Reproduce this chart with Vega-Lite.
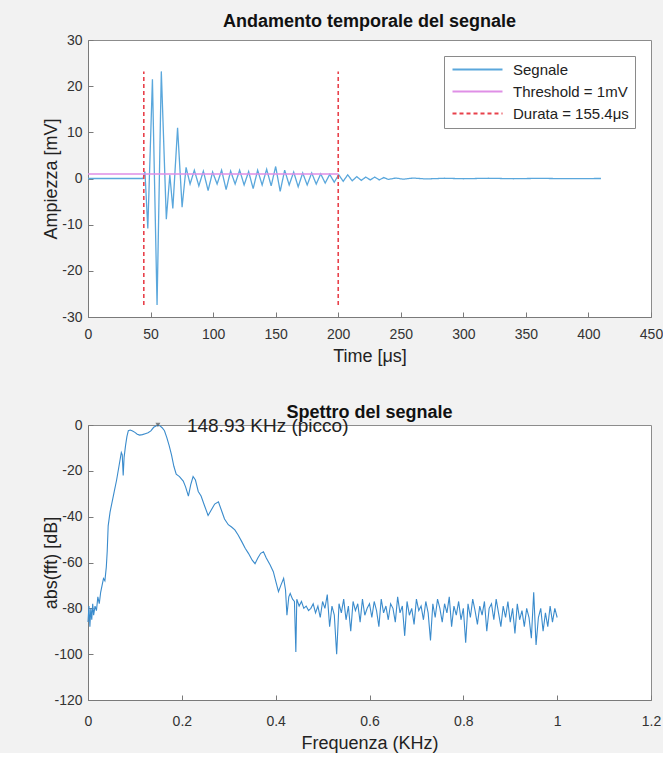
{
  "$schema": "https://vega.github.io/schema/vega-lite/v6.json",
  "background": "#f2f2f2",
  "padding": {"left": 41, "top": 12, "right": 0, "bottom": 0},
  "spacing": 37,
  "datasets": {
    "sig": [
      {"t": 0, "v": 0}, {"t": 44, "v": 0}, {"t": 45.5, "v": 1.5}, {"t": 47.8, "v": -10.8}, {"t": 51.5, "v": 21.5},
      {"t": 55.2, "v": -27.4}, {"t": 58.6, "v": 23.2}, {"t": 62.6, "v": -8.8}, {"t": 65.4, "v": 0.8}, {"t": 67.8, "v": -6.5},
      {"t": 71.6, "v": 11.0}, {"t": 75.2, "v": -6.2}, {"t": 78.4, "v": 2.4}, {"t": 81.6, "v": -1.2}, {"t": 85, "v": 1.8},
      {"t": 88.6, "v": -1.6}, {"t": 92.2, "v": 1.6}, {"t": 96, "v": -2.6}, {"t": 99.6, "v": 1.4}, {"t": 103.2, "v": -1.2},
      {"t": 106.8, "v": 1.8}, {"t": 110.4, "v": -2.4}, {"t": 114, "v": 1.6}, {"t": 117.6, "v": -1.2}, {"t": 121.2, "v": 1.8},
      {"t": 124.8, "v": -1.4}, {"t": 128.4, "v": 1.5}, {"t": 132, "v": -2.2}, {"t": 135.6, "v": 1.8}, {"t": 139.2, "v": -1.4},
      {"t": 142.8, "v": 2.0}, {"t": 146.4, "v": -1.6}, {"t": 150, "v": 2.6}, {"t": 153.6, "v": -2.8}, {"t": 157.2, "v": 1.8},
      {"t": 160.8, "v": -1.4}, {"t": 164.4, "v": 1.4}, {"t": 168, "v": -1.8}, {"t": 171.6, "v": 1.2}, {"t": 175.2, "v": -1.4},
      {"t": 178.8, "v": 1.2}, {"t": 182.4, "v": -1.2}, {"t": 186, "v": 1.0}, {"t": 189.6, "v": -1.0}, {"t": 193.2, "v": 0.9},
      {"t": 196.8, "v": -0.8}, {"t": 200.4, "v": 0.8}, {"t": 204, "v": -0.6}, {"t": 207.6, "v": 0.8}, {"t": 211.2, "v": -0.5},
      {"t": 214.8, "v": 0.4}, {"t": 218.4, "v": -0.4}, {"t": 222, "v": 0.3}, {"t": 225.6, "v": -0.3}, {"t": 229.2, "v": 0.3},
      {"t": 232.8, "v": -0.3}, {"t": 236.4, "v": 0.2}, {"t": 240, "v": -0.2}, {"t": 246, "v": 0.1}, {"t": 252, "v": -0.15},
      {"t": 260, "v": 0.1}, {"t": 270, "v": -0.1}, {"t": 285, "v": 0.05}, {"t": 300, "v": -0.05}, {"t": 320, "v": 0.05},
      {"t": 340, "v": -0.05}, {"t": 360, "v": 0.03}, {"t": 380, "v": -0.03}, {"t": 410, "v": 0}
    ],
    "thr": [{"t": 0, "v": 1}, {"t": 200, "v": 1}],
    "dur": [{"t": 44.6, "lo": -27.4, "hi": 23.2}, {"t": 200, "lo": -27.4, "hi": 23.2}],
    "spec": [
      {"f": 0, "db": -86}, {"f": 0.002, "db": -79}, {"f": 0.004, "db": -88}, {"f": 0.006, "db": -80}, {"f": 0.008, "db": -85},
      {"f": 0.010, "db": -78}, {"f": 0.012, "db": -83}, {"f": 0.015, "db": -79}, {"f": 0.018, "db": -81}, {"f": 0.021, "db": -75},
      {"f": 0.024, "db": -78}, {"f": 0.027, "db": -73}, {"f": 0.030, "db": -70}, {"f": 0.033, "db": -67}, {"f": 0.036, "db": -68},
      {"f": 0.039, "db": -62}, {"f": 0.041, "db": -55}, {"f": 0.043, "db": -44}, {"f": 0.047, "db": -38}, {"f": 0.051, "db": -34},
      {"f": 0.056, "db": -29}, {"f": 0.061, "db": -24}, {"f": 0.066, "db": -18}, {"f": 0.071, "db": -12}, {"f": 0.073, "db": -13},
      {"f": 0.075, "db": -22}, {"f": 0.077, "db": -14}, {"f": 0.080, "db": -9}, {"f": 0.083, "db": -5}, {"f": 0.086, "db": -2.5},
      {"f": 0.090, "db": -2.2}, {"f": 0.095, "db": -2.6}, {"f": 0.100, "db": -3.2}, {"f": 0.105, "db": -4}, {"f": 0.110, "db": -4.4},
      {"f": 0.116, "db": -4.2}, {"f": 0.122, "db": -3.8}, {"f": 0.128, "db": -3.4}, {"f": 0.134, "db": -2.6}, {"f": 0.140, "db": -1},
      {"f": 0.145, "db": -0.4}, {"f": 0.149, "db": 0}, {"f": 0.153, "db": -0.3}, {"f": 0.158, "db": -1.2}, {"f": 0.163, "db": -2.5},
      {"f": 0.168, "db": -5.5}, {"f": 0.173, "db": -9}, {"f": 0.178, "db": -13}, {"f": 0.183, "db": -18}, {"f": 0.188, "db": -21.5},
      {"f": 0.195, "db": -22.5}, {"f": 0.203, "db": -24.5}, {"f": 0.208, "db": -27}, {"f": 0.214, "db": -31}, {"f": 0.219, "db": -26},
      {"f": 0.224, "db": -22.5}, {"f": 0.229, "db": -24}, {"f": 0.235, "db": -29}, {"f": 0.241, "db": -31}, {"f": 0.248, "db": -35},
      {"f": 0.256, "db": -39.5}, {"f": 0.263, "db": -37}, {"f": 0.270, "db": -34.5}, {"f": 0.278, "db": -33.5}, {"f": 0.284, "db": -37},
      {"f": 0.291, "db": -41}, {"f": 0.299, "db": -43.5}, {"f": 0.306, "db": -44.5}, {"f": 0.313, "db": -45.8}, {"f": 0.320, "db": -48},
      {"f": 0.328, "db": -51}, {"f": 0.335, "db": -53.8}, {"f": 0.342, "db": -56}, {"f": 0.350, "db": -59}, {"f": 0.356, "db": -60.5},
      {"f": 0.362, "db": -58}, {"f": 0.368, "db": -56}, {"f": 0.374, "db": -55.3}, {"f": 0.380, "db": -58}, {"f": 0.388, "db": -61},
      {"f": 0.395, "db": -64}, {"f": 0.400, "db": -68}, {"f": 0.406, "db": -72.7}, {"f": 0.411, "db": -70}, {"f": 0.417, "db": -66.9},
      {"f": 0.421, "db": -72}, {"f": 0.424, "db": -83}, {"f": 0.428, "db": -75}, {"f": 0.431, "db": -73.5}, {"f": 0.436, "db": -76},
      {"f": 0.440, "db": -77}, {"f": 0.443, "db": -99}, {"f": 0.445, "db": -76},
      {"f": 0.450, "db": -79}, {"f": 0.455, "db": -77}, {"f": 0.460, "db": -80}, {"f": 0.465, "db": -79}, {"f": 0.470, "db": -81},
      {"f": 0.475, "db": -80}, {"f": 0.480, "db": -78}, {"f": 0.485, "db": -82}, {"f": 0.490, "db": -79}, {"f": 0.495, "db": -84},
      {"f": 0.500, "db": -77}, {"f": 0.505, "db": -80}, {"f": 0.510, "db": -74}, {"f": 0.515, "db": -88}, {"f": 0.520, "db": -79},
      {"f": 0.525, "db": -83}, {"f": 0.530, "db": -100}, {"f": 0.535, "db": -78}, {"f": 0.540, "db": -82}, {"f": 0.545, "db": -76},
      {"f": 0.550, "db": -85}, {"f": 0.555, "db": -79}, {"f": 0.560, "db": -90}, {"f": 0.565, "db": -77}, {"f": 0.570, "db": -81},
      {"f": 0.575, "db": -78}, {"f": 0.580, "db": -86}, {"f": 0.585, "db": -76}, {"f": 0.590, "db": -83}, {"f": 0.595, "db": -80},
      {"f": 0.600, "db": -78}, {"f": 0.605, "db": -84}, {"f": 0.610, "db": -77}, {"f": 0.615, "db": -81}, {"f": 0.620, "db": -88},
      {"f": 0.625, "db": -76}, {"f": 0.630, "db": -82}, {"f": 0.635, "db": -79}, {"f": 0.640, "db": -85}, {"f": 0.645, "db": -78},
      {"f": 0.650, "db": -80}, {"f": 0.655, "db": -86}, {"f": 0.660, "db": -75}, {"f": 0.665, "db": -82}, {"f": 0.670, "db": -79},
      {"f": 0.675, "db": -92}, {"f": 0.680, "db": -77}, {"f": 0.685, "db": -83}, {"f": 0.690, "db": -80}, {"f": 0.695, "db": -87},
      {"f": 0.700, "db": -76}, {"f": 0.705, "db": -81}, {"f": 0.710, "db": -79}, {"f": 0.715, "db": -85}, {"f": 0.720, "db": -77},
      {"f": 0.725, "db": -82}, {"f": 0.730, "db": -94}, {"f": 0.735, "db": -78}, {"f": 0.740, "db": -84}, {"f": 0.745, "db": -76},
      {"f": 0.750, "db": -80}, {"f": 0.755, "db": -86}, {"f": 0.760, "db": -78}, {"f": 0.765, "db": -82}, {"f": 0.770, "db": -75},
      {"f": 0.775, "db": -88}, {"f": 0.780, "db": -79}, {"f": 0.785, "db": -83}, {"f": 0.790, "db": -77}, {"f": 0.795, "db": -85},
      {"f": 0.800, "db": -80}, {"f": 0.805, "db": -95}, {"f": 0.810, "db": -78}, {"f": 0.815, "db": -84}, {"f": 0.820, "db": -76},
      {"f": 0.825, "db": -81}, {"f": 0.830, "db": -87}, {"f": 0.835, "db": -79}, {"f": 0.840, "db": -83}, {"f": 0.845, "db": -77},
      {"f": 0.850, "db": -90}, {"f": 0.855, "db": -80}, {"f": 0.860, "db": -78}, {"f": 0.865, "db": -85}, {"f": 0.870, "db": -76},
      {"f": 0.875, "db": -82}, {"f": 0.880, "db": -88}, {"f": 0.885, "db": -79}, {"f": 0.890, "db": -84}, {"f": 0.895, "db": -77},
      {"f": 0.900, "db": -86}, {"f": 0.905, "db": -80}, {"f": 0.910, "db": -91}, {"f": 0.915, "db": -78}, {"f": 0.920, "db": -85},
      {"f": 0.925, "db": -81}, {"f": 0.930, "db": -88}, {"f": 0.935, "db": -80}, {"f": 0.940, "db": -84}, {"f": 0.945, "db": -93},
      {"f": 0.950, "db": -73}, {"f": 0.955, "db": -96}, {"f": 0.960, "db": -84}, {"f": 0.965, "db": -80}, {"f": 0.970, "db": -90},
      {"f": 0.975, "db": -82}, {"f": 0.980, "db": -88}, {"f": 0.985, "db": -79}, {"f": 0.990, "db": -86}, {"f": 0.995, "db": -80},
      {"f": 1.000, "db": -84}
    ],
    "peak": [{"f": 0.149, "db": 0, "label": "148.93 KHz (picco)"}]
  },
  "vconcat": [
    {
      "width": 563,
      "height": 277,
      "title": {"text": "Andamento temporale del segnale", "fontSize": 18, "fontWeight": "bold", "offset": 2, "anchor": "middle", "color": "#111"},
      "encoding": {
        "x": {"field": "t", "type": "quantitative", "scale": {"domain": [0, 450], "nice": false},
              "axis": {"title": "Time [μs]", "values": [0, 50, 100, 150, 200, 250, 300, 350, 400, 450], "labelPadding": 15, "titlePadding": 6}}
      },
      "layer": [
        {
          "data": {"name": "sig"},
          "mark": {"type": "line", "strokeWidth": 1.3},
          "encoding": {
            "y": {"field": "v", "type": "quantitative", "scale": {"domain": [-30, 30], "nice": false},
                  "axis": {"title": "Ampiezza [mV]", "values": [-30, -20, -10, 0, 10, 20, 30], "labelExpr": "replace(datum.label, '−', '-')", "labelPadding": 11, "minExtent": 28, "maxExtent": 28, "titlePadding": 0}},
            "color": {"datum": "Segnale", "title": null},
            "strokeDash": {"datum": "Segnale", "title": null}
          }
        },
        {
          "data": {"name": "thr"},
          "mark": {"type": "line", "strokeWidth": 1.5},
          "encoding": {
            "y": {"field": "v", "type": "quantitative"},
            "color": {"datum": "Threshold = 1mV", "title": null},
            "strokeDash": {"datum": "Threshold = 1mV", "title": null}
          }
        },
        {
          "data": {"name": "dur"},
          "mark": {"type": "rule", "strokeWidth": 1.6},
          "encoding": {
            "y": {"field": "lo", "type": "quantitative"},
            "y2": {"field": "hi"},
            "color": {"datum": "Durata = 155.4μs", "title": null,
                      "scale": {"domain": ["Segnale", "Threshold = 1mV", "Durata = 155.4μs"], "range": ["#5aa7dc", "#df8fe6", "#e8414b"]}},
            "strokeDash": {"datum": "Durata = 155.4μs", "title": null,
                      "scale": {"domain": ["Segnale", "Threshold = 1mV", "Durata = 155.4μs"], "range": [[1, 0], [1, 0], [4, 3]]}}
          }
        }
      ]
    },
    {
      "width": 563,
      "height": 275,
      "title": {"text": "Spettro del segnale", "fontSize": 18, "fontWeight": "bold", "offset": -5, "anchor": "middle", "color": "#111"},
      "encoding": {
        "x": {"field": "f", "type": "quantitative", "scale": {"domain": [0, 1.2], "nice": false},
              "axis": {"title": "Frequenza (KHz)", "values": [0, 0.2, 0.4, 0.6, 0.8, 1, 1.2], "format": "~g", "labelPadding": 19, "titlePadding": 6}},
        "y": {"field": "db", "type": "quantitative", "scale": {"domain": [-120, 0], "nice": false},
              "axis": {"title": "abs(fft) [dB]", "values": [-120, -100, -80, -60, -40, -20, 0], "labelExpr": "replace(datum.label, '−', '-')", "labelPadding": 11, "minExtent": 28, "maxExtent": 28, "titlePadding": 0}}
      },
      "layer": [
        {
          "data": {"name": "spec"},
          "mark": {"type": "line", "strokeWidth": 1.1, "color": "#3a8bcc"}
        },
        {
          "data": {"name": "peak"},
          "mark": {"type": "point", "shape": "triangle-down", "filled": true, "size": 25, "color": "#555"}
        },
        {
          "data": {"name": "peak"},
          "mark": {"type": "text", "align": "left", "baseline": "middle", "dx": 29, "dy": 1, "fontSize": 19, "color": "#222"},
          "encoding": {"text": {"field": "label"}}
        }
      ]
    }
  ],
  "config": {
    "font": "Liberation Sans",
    "view": {"fill": "white", "stroke": "#8c8c8c", "strokeWidth": 1},
    "axis": {
      "grid": false,
      "labelFontSize": 14,
      "titleFontSize": 18,
      "titleFontWeight": "normal",
      "labelColor": "#333",
      "titleColor": "#222",
      "domainColor": "#7a7a7a",
      "tickColor": "#7a7a7a",
      "tickSize": -5,
      "labelFlush": false,
      "labelOverlap": false
    },
    "legend": {
      "orient": "none",
      "legendX": 356,
      "legendY": 16,
      "fillColor": "white",
      "strokeColor": "#8a8a8a",
      "padding": 6,
      "labelFontSize": 15,
      "labelColor": "#222",
      "symbolType": "M-1,0H9",
      "symbolSize": 100,
      "symbolStrokeWidth": 2,
      "labelOffset": 48,
      "rowPadding": 6
    }
  }
}
